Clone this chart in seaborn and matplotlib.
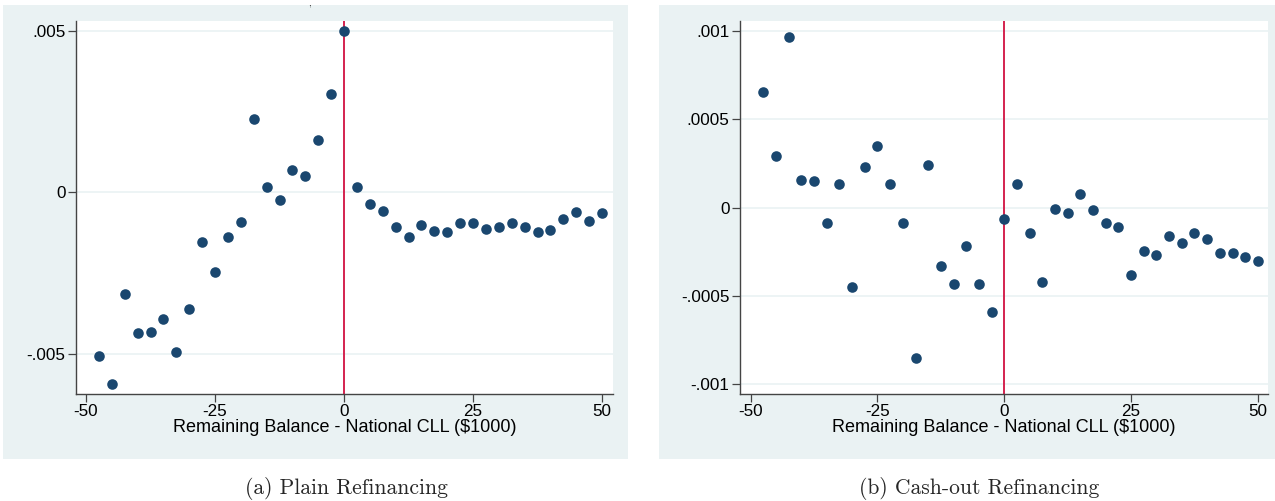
import matplotlib
matplotlib.use("Agg")
import matplotlib.pyplot as plt
from matplotlib.patches import Rectangle
import numpy as np
import pandas as pd
import seaborn as sns

# Bin midpoints of remaining balance minus national conforming loan limit ($1000)
bins = [-47.5, -45, -42.5, -40, -37.5, -35, -32.5, -30, -27.5, -25,
        -22.5, -20, -17.5, -15, -12.5, -10, -7.5, -5, -2.5, 0,
        2.5, 5, 7.5, 10, 12.5, 15, 17.5, 20, 22.5, 25,
        27.5, 30, 32.5, 35, 37.5, 40, 42.5, 45, 47.5, 50]

# Panel (a): plain refinancing
plain = [-0.00507, -0.00594, -0.00314, -0.00435, -0.00432, -0.00393, -0.00495, -0.00360, -0.00153, -0.00246,
         -0.00137, -0.00093, 0.00226, 0.00016, -0.00025, 0.00070, 0.00050, 0.00162, 0.00305, 0.00500,
         0.00017, -0.00035, -0.00059, -0.00108, -0.00139, -0.00101, -0.00118, -0.00122, -0.00095, -0.00096,
         -0.00114, -0.00107, -0.00095, -0.00108, -0.00122, -0.00117, -0.00082, -0.00060, -0.00089, -0.00064]

# Panel (b): cash-out refinancing
cashout = [0.000652, 0.000293, 0.000967, 0.000154, 0.000152, -0.000086, 0.000133, -0.000449, 0.000228, 0.000348,
           0.000131, -0.000086, -0.000852, 0.000241, -0.000331, -0.000433, -0.000218, -0.000435, -0.000592, -0.000065,
           0.000131, -0.000144, -0.000420, -0.000007, -0.000029, 0.000076, -0.000014, -0.000088, -0.000110, -0.000382,
           -0.000246, -0.000271, -0.000163, -0.000199, -0.000146, -0.000180, -0.000259, -0.000259, -0.000279, -0.000303]

x_ticks = [-50, -25, 0, 25, 50]
x_tick_labels = ["-50", "-25", "0", "25", "50"]
plain_yticks = [0.005, 0.0, -0.005]
plain_ylabels = [".005", "0", "-.005"]
cash_yticks = [0.001, 0.0005, 0.0, -0.0005, -0.001]
cash_ylabels = [".001", ".0005", "0", "-.0005", "-.001"]
xlabel = "Remaining Balance - National CLL ($1000)"
captions = ["(a) Plain Refinancing", "(b) Cash-out Refinancing"]

BG = "#EAF2F3"
NAVY = "#1A476F"
RED = "#D4234F"
SPINE = "#444444"

sns.set_theme(style="white")
plt.rcParams["font.family"] = ["Liberation Sans", "DejaVu Sans"]

W, H = 1275, 501
fig = plt.figure(figsize=(W / 100, H / 100), dpi=100)
fig.patch.set_facecolor("white")


def fx(px):
    return px / W


def fy(py):
    return 1 - py / H


# graph-region backgrounds, kept behind the axes
for x0, x1 in [(3, 627.7), (659, 1276)]:
    fig.patches.append(Rectangle((fx(x0), fy(459.3)), fx(x1 - x0), (459.3 - 5) / H,
                                 transform=fig.transFigure, facecolor=BG,
                                 edgecolor="none", zorder=-5))

panels = [
    dict(rect=(76, 612.7), y=plain, yt=plain_yticks, yl=plain_ylabels,
         xlim=(-51.94, 52.07), ylim=(-0.006245, 0.00532), cap=captions[0], cx=346),
    dict(rect=(740, 1268.3), y=cashout, yt=cash_yticks, yl=cash_ylabels,
         xlim=(-52.1, 52.05), ylim=(-0.001056, 0.001058), cap=captions[1], cx=979),
]

for p in panels:
    x0, x1 = p["rect"]
    ax = fig.add_axes([fx(x0), fy(394), fx(x1 - x0), (394 - 20.7) / H])
    ax.set_zorder(2)
    ax.set_facecolor("white")
    df = pd.DataFrame({"bin": bins, "coef": p["y"]})
    for yv in p["yt"]:
        ax.axhline(yv, color=BG, lw=1.2, zorder=1)
    ax.axvline(0, color=RED, lw=1.4, zorder=2)
    sns.scatterplot(data=df, x="bin", y="coef", ax=ax, s=58, color=NAVY,
                    linewidth=0, zorder=3, legend=False)
    ax.set_xlim(*p["xlim"])
    ax.set_ylim(*p["ylim"])
    ax.set_xticks(x_ticks)
    ax.set_xticklabels(x_tick_labels)
    ax.set_yticks(p["yt"])
    ax.set_yticklabels(p["yl"])
    ax.grid(False)
    for side in ["top", "right"]:
        ax.spines[side].set_visible(False)
    for side in ["left", "bottom"]:
        ax.spines[side].set_color(SPINE)
        ax.spines[side].set_linewidth(1.0)
    ax.tick_params(axis="both", which="major", direction="out", length=6,
                   width=0.9, color=SPINE, labelsize=12.3, labelcolor="black",
                   pad=1.5, left=True, bottom=True)
    ax.set_xlabel(xlabel, fontsize=13, color="black", labelpad=0)
    ax.set_ylabel("")
    fig.text(fx(p["cx"]), fy(488), p["cap"], ha="center",
             va="center", fontsize=15.5, family=["cmr10", "DejaVu Serif"])

fig.text(fx(310), 1.0, ",", ha="center", va="top", fontsize=7,
         family=["cmr10", "DejaVu Serif"])

fig.savefig("out.png", dpi=100)
